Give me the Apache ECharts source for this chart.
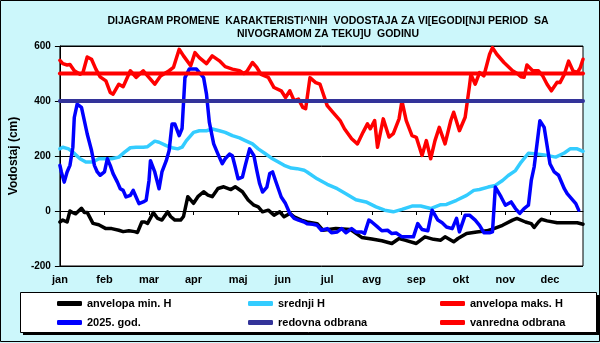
<!DOCTYPE html>
<html>
<head>
<meta charset="utf-8">
<script src="https://cdn.jsdelivr.net/npm/echarts@6/dist/echarts.min.js"></script>
<style>
  html, body { margin: 0; padding: 0; background: #ccf7fb; }
  #main { width: 600px; height: 343px; }
</style>
</head>
<body>
<div id="main"></div>
<script>
// vodostaj po danima u godini: [dan, cm]
var months = ['jan', 'feb', 'mar', 'apr', 'maj', 'jun', 'jul', 'avg', 'sep', 'okt', 'nov', 'dec'];
var yTicks = [-200, 0, 200, 400, 600];

var minH = [[0,-40],[2,-33],[5,-40],[7,0],[9,-6],[11,-10],[15,10],[17,-5],[19,-5],[23,-45],[27,-50],[32,-64],[36,-64],[41,-70],[44,-75],[48,-72],[52,-75],[54,-78],[57,-40],[59,-40],[61,-45],[65,-6],[68,-27],[71,-33],[75,-3],[77,-20],[80,-33],[84,-33],[86,-20],[89,52],[93,28],[96,52],[100,70],[103,58],[106,52],[110,82],[114,88],[119,78],[122,88],[127,70],[131,40],[135,21],[138,15],[141,-3],[145,3],[149,-15],[153,-3],[156,-21],[160,-9],[163,-21],[168,-33],[172,-40],[179,-46],[183,-70],[192,-64],[202,-67],[210,-96],[217,-102],[224,-108],[231,-118],[236,-100],[240,-106],[248,-118],[254,-94],[260,-103],[265,-106],[268,-94],[274,-112],[277,-100],[283,-82],[290,-76],[297,-72],[302,-64],[308,-52],[315,-33],[318,-27],[324,-40],[328,-46],[330,-60],[333,-40],[335,-30],[339,-36],[346,-43],[353,-43],[360,-43],[364,-48]];

var srednjiH = [[0,226],[2,232],[6,226],[9,214],[14,190],[18,178],[23,178],[27,190],[32,190],[36,190],[41,196],[45,214],[49,230],[53,232],[58,232],[61,234],[66,254],[69,250],[74,238],[78,230],[82,226],[85,232],[88,256],[93,286],[97,292],[102,292],[106,298],[111,292],[115,286],[120,274],[125,266],[129,256],[134,244],[138,226],[143,208],[147,193],[152,178],[156,166],[161,156],[165,154],[170,148],[172,142],[179,117],[186,97],[193,81],[199,63],[206,41],[213,33],[220,15],[226,3],[232,-3],[238,6],[245,18],[251,18],[258,9],[265,23],[269,24],[276,39],[283,57],[288,75],[292,78],[298,87],[303,93],[308,111],[312,129],[317,147],[321,178],[326,210],[330,208],[337,204],[345,196],[351,211],[355,226],[360,226],[364,217]];

var maksH = [[0,548],[2,536],[5,531],[7,533],[10,510],[14,497],[16,503],[19,560],[22,552],[25,516],[28,488],[32,473],[35,431],[37,425],[41,461],[44,452],[49,510],[53,486],[58,510],[61,491],[66,461],[70,491],[76,510],[79,522],[83,588],[86,564],[91,528],[94,576],[97,558],[102,536],[106,564],[111,546],[115,525],[120,516],[125,510],[128,500],[130,507],[134,540],[137,522],[140,497],[145,486],[149,449],[154,437],[157,413],[160,437],[163,401],[166,407],[169,377],[171,372],[174,485],[178,467],[181,461],[186,383],[190,359],[195,329],[198,299],[203,263],[207,244],[211,287],[214,317],[216,299],[219,329],[221,232],[225,335],[229,269],[232,281],[236,335],[238,400],[241,329],[245,274],[248,268],[252,202],[255,256],[258,190],[261,256],[264,304],[268,244],[272,329],[274,359],[278,292],[282,341],[285,455],[286,497],[289,461],[292,503],[295,491],[299,570],[301,594],[304,570],[309,540],[315,510],[319,497],[321,488],[323,486],[325,531],[329,510],[333,510],[336,491],[339,461],[342,437],[346,468],[348,467],[351,497],[354,545],[357,510],[360,503],[362,520],[364,552]];

var god2025 = [[0,166],[1,142],[3,105],[5,142],[7,166],[9,232],[10,340],[12,389],[15,377],[17,329],[19,280],[22,220],[24,166],[26,142],[28,130],[31,142],[33,190],[35,166],[37,136],[40,105],[42,81],[44,75],[46,51],[49,57],[51,75],[53,51],[55,27],[58,33],[60,39],[62,111],[63,183],[66,142],[69,81],[71,142],[74,183],[76,220],[78,316],[80,316],[83,274],[85,300],[87,485],[90,516],[95,516],[100,485],[102,425],[104,322],[107,244],[110,207],[113,172],[115,190],[118,207],[120,201],[122,160],[124,117],[127,123],[129,166],[132,226],[135,201],[137,148],[139,99],[141,69],[144,87],[146,136],[148,142],[150,111],[154,51],[157,27],[160,-9],[163,-27],[166,-33],[170,-40],[172,-46],[176,-48],[179,-52],[182,-70],[186,-64],[189,-79],[193,-76],[196,-64],[199,-79],[203,-64],[206,-76],[210,-76],[212,-82],[215,-33],[217,-40],[221,-58],[224,-72],[228,-70],[231,-82],[234,-80],[238,-94],[242,-94],[246,-94],[249,-46],[252,-67],[256,-72],[259,3],[263,-33],[266,-43],[269,-58],[273,-64],[276,-27],[278,-76],[282,-15],[285,-15],[289,-33],[292,-52],[295,-79],[299,-79],[301,-76],[303,87],[307,51],[310,21],[314,33],[317,9],[320,-9],[323,9],[326,21],[328,111],[330,160],[334,328],[337,304],[341,172],[344,142],[347,130],[351,81],[353,63],[356,45],[359,27],[361,3]];

var redovna = 400;
var vanredna = 500;
var lastDay = 364;

var font = '"Liberation Sans", Arial, sans-serif';

function flat(v) {
  return [[0, v], [lastDay, v]];
}

function curve(name, data, color, width) {
  return {
    name: name,
    type: 'line',
    data: data,
    showSymbol: false,
    symbol: 'none',
    animation: false,
    color: color,
    lineStyle: { color: color, width: width, join: 'round', cap: 'round' }
  };
}

var legendBase = {
  orient: 'vertical',
  top: 298,
  padding: 0,
  itemGap: 8,
  itemWidth: 25,
  itemHeight: 5,
  icon: 'roundRect',
  textStyle: { fontFamily: font, fontSize: 11, fontWeight: 'bold', color: '#000' }
};

var chart = echarts.init(document.getElementById('main'));

var option = {
  backgroundColor: '#ccf7fb',
  animation: false,
  title: {
    text: 'DIJAGRAM PROMENE  KARAKTERISTI^NIH  VODOSTAJA ZA VI[EGODI[NJI PERIOD  SA\nNIVOGRAMOM ZA TEKU]U  GODINU',
    left: 323,
    top: 10,
    textAlign: 'center',
    textStyle: { fontFamily: font, fontSize: 10.5, fontWeight: 'bold', color: '#000', lineHeight: 12.5 }
  },
  graphic: [
    { type: 'rect', shape: { x: 0.5, y: 0.5, width: 599, height: 341 }, style: { fill: null, stroke: '#000', lineWidth: 1 }, z: 10 },
    { type: 'rect', shape: { x: 23, y: 295, width: 577, height: 40 }, style: { fill: '#000' }, z: 0 },
    { type: 'rect', shape: { x: 20.5, y: 292.5, width: 576, height: 40 }, style: { fill: '#fff', stroke: '#000', lineWidth: 1 }, z: 1 }
  ],
  legend: [
    Object.assign({ left: 57, data: ['anvelopa min. H', '2025. god.'] }, legendBase),
    Object.assign({ left: 248, data: ['srednji H', 'redovna odbrana'] }, legendBase),
    Object.assign({ left: 440, data: ['anvelopa maks. H', 'vanredna odbrana'] }, legendBase)
  ],
  grid: {
    left: 47, top: 46, width: 536, height: 220,
    show: true, backgroundColor: '#fff', borderColor: '#000', borderWidth: 1
  },
  xAxis: {
    type: 'value',
    min: 0,
    max: lastDay,
    interval: 31,
    axisLine: { show: true, lineStyle: { color: '#000', width: 1 } },
    axisTick: { show: true, length: 4, lineStyle: { color: '#000' } },
    splitLine: { show: false },
    axisLabel: {
      margin: 8,
      fontFamily: font, fontSize: 11, fontWeight: 'bold', color: '#000',
      showMaxLabel: false,
      formatter: function (v) {
        return v % 31 === 0 ? months[v / 31] : '';
      }
    }
  },
  yAxis: {
    type: 'value',
    min: yTicks[0],
    max: yTicks[yTicks.length - 1],
    interval: 200,
    name: 'Vodostaj (cm)',
    nameLocation: 'middle',
    nameGap: 26,
    nameTextStyle: { fontFamily: font, fontSize: 12, fontWeight: 'bold', color: '#000' },
    axisLine: { show: true, lineStyle: { color: '#000', width: 1 } },
    axisTick: { show: true, length: 5, lineStyle: { color: '#000' } },
    splitLine: { show: true, lineStyle: { color: '#000', width: 1 } },
    axisLabel: { margin: 9, fontFamily: font, fontSize: 10, fontWeight: 'bold', color: '#000' }
  },
  series: [
    curve('anvelopa min. H', minH, '#000000', 3.5),
    curve('srednji H', srednjiH, '#33ccff', 3.5),
    curve('anvelopa maks. H', maksH, '#ff0000', 3.5),
    curve('2025. god.', god2025, '#0000ff', 3.5),
    curve('redovna odbrana', flat(redovna), '#333399', 4),
    curve('vanredna odbrana', flat(vanredna), '#ff0000', 4)
  ]
};

chart.setOption(option);
</script>
</body>
</html>
